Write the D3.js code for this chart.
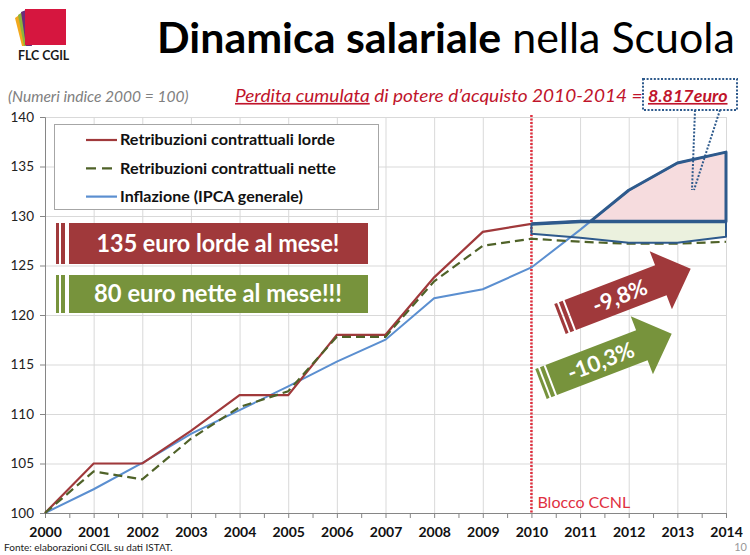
<!DOCTYPE html>
<html>
<head>
<meta charset="utf-8">
<script src="https://cdn.jsdelivr.net/npm/d3@7"></script>
<style>
  body { margin: 0; background: #fff; }
  svg { display: block; font-family: Lato, "Open Sans", sans-serif; }
</style>
</head>
<body>
<div class="main"></div>
<script>
// data (numeri indice 2000 = 100)
const years = [2000, 2001, 2002, 2003, 2004, 2005, 2006, 2007, 2008, 2009, 2010, 2011, 2012, 2013, 2014];
const lorde = [100, 105, 105, 108.3, 111.9, 111.9, 118, 118, 123.8, 128.4, 129.2, 129.45, 129.45, 129.45, 129.45];
const nette = [100, 104.2, 103.4, 107.5, 110.7, 112.3, 117.8, 117.8, 123.4, 127.0, 127.7, 127.4, 127.2, 127.2, 127.4];
const inflazione = [100, 102.4, 105.05, 108.0, 110.4, 112.8, 115.3, 117.5, 121.7, 122.6, 124.8, 128.6, 132.6, 135.35, 136.45];

// blocco contrattuale band 2010-2014
const bandYears = [2010, 2011, 2012, 2013, 2014];
const bandTop = [129.2, 129.45, 129.45, 129.45, 129.45];
const bandBottom = [128.2, 127.8, 127.3, 127.3, 127.9];

const yTicks = [100, 105, 110, 115, 120, 125, 130, 135, 140];
const seriesNames = ["Retribuzioni contrattuali lorde", "Retribuzioni contrattuali nette", "Inflazione (IPCA generale)"];

const width = 750;
const height = 555;

const svg = d3.select('.main').append("svg")
    .attr("width", width)
    .attr("height", height);

const x = d3.scaleLinear().domain([2000, 2014]).range([45, 726]);
const y = d3.scaleLinear().domain([100, 140]).range([513, 117]);

// squeeze a text element horizontally so it fills a given width
function fitWidth(sel, w, anchorX) {
    const node = sel.node();
    const bw = node.getBBox().width;
    const k = w / bw;
    sel.attr("transform", `translate(${anchorX},0) scale(${k},1) translate(${-anchorX},0)`);
}

// ---- logo
const logo = svg.append("g");
logo.append("polygon").attr("points", "15,18 22,13 28,46 22,46").attr("fill", "#F2A81D");
logo.append("polygon").attr("points", "18,15 24,11 30,46 24,46").attr("fill", "#8DB33A");
logo.append("polygon").attr("points", "21,12 26,10 32,46 26,46").attr("fill", "#6B2C7A");
logo.append("rect").attr("x", 25).attr("y", 9).attr("width", 41).attr("height", 36).attr("fill", "#D6163F");
const logoText = logo.append("text")
    .attr("x", 18).attr("y", 60)
    .attr("font-size", 14).attr("font-weight", "bold").attr("fill", "#1a1a1a")
    .text("FLC CGIL");
fitWidth(logoText, 52, 18);

// ---- title
const title = svg.append("text")
    .attr("x", 157).attr("y", 53)
    .attr("font-size", 42).attr("fill", "#000");
title.append("tspan").attr("font-weight", "bold").text("Dinamica salariale");
title.append("tspan").text(" nella Scuola");
fitWidth(title, 578, 157);

// ---- subtitle line
const sub = svg.append("text")
    .attr("x", 8).attr("y", 102)
    .attr("font-size", 14.5).attr("font-style", "italic").attr("fill", "#808080")
    .text("(Numeri indice 2000 = 100)");
fitWidth(sub, 181, 8);

const perdita = svg.append("text")
    .attr("x", 235).attr("y", 102)
    .attr("font-size", 16.5).attr("font-style", "italic").attr("fill", "#C0142B");
perdita.append("tspan").attr("text-decoration", "underline").text("Perdita cumulata");
perdita.append("tspan").text(" di potere d\u2019acquisto 2010-2014 = ");
fitWidth(perdita, 408, 235);

const euro = svg.append("text")
    .attr("x", 648).attr("y", 102)
    .attr("font-size", 16.5).attr("font-style", "italic").attr("font-weight", "bold")
    .attr("text-decoration", "underline").attr("fill", "#C0142B")
    .text("8.817euro");
fitWidth(euro, 80, 648);

// ---- grid
const grid = svg.append("g").attr("stroke", "#D9D9D9").attr("stroke-width", 1);
grid.selectAll(".hgrid").data(yTicks.slice(1)).enter().append("line")
    .attr("x1", x(2000)).attr("x2", x(2014))
    .attr("y1", d => y(d) + 0.5).attr("y2", d => y(d) + 0.5);
grid.selectAll(".vgrid").data(years.slice(1)).enter().append("line")
    .attr("x1", d => x(d) + 0.5).attr("x2", d => x(d) + 0.5)
    .attr("y1", y(140)).attr("y2", y(100));

// ---- axes
const yAxis = svg.append("g")
    .attr("transform", `translate(${x(2000)},0)`)
    .call(d3.axisLeft(y).tickValues(yTicks).tickSize(5).tickPadding(6).tickFormat(d3.format("d")));
yAxis.select(".domain").attr("stroke", "#868686");
yAxis.selectAll(".tick line").attr("stroke", "#868686");
yAxis.selectAll("text").attr("font-size", 13.5).attr("fill", "#222").attr("font-family", "Lato, sans-serif");

const halfYears = d3.range(2000, 2014.01, 0.5);
const xAxis = svg.append("g")
    .attr("transform", `translate(0,${y(100)})`)
    .call(d3.axisBottom(x).tickValues(halfYears).tickSize(5).tickPadding(9)
        .tickFormat(d => Number.isInteger(d) ? d : ""));
xAxis.select(".domain").attr("stroke", "#868686");
xAxis.selectAll(".tick line").attr("stroke", "#868686");
xAxis.selectAll("text").attr("font-size", 14).attr("font-weight", "bold").attr("fill", "#111").attr("font-family", "Lato, sans-serif");

// ---- band regions (fills)
const band = bandYears.map((yr, i) => ({
    yr: yr, top: bandTop[i], bottom: bandBottom[i],
    infl: inflazione[years.indexOf(yr)]
}));

// where inflation crosses the band top
let cross = null;
for (let i = 0; i < band.length - 1; i++) {
    const a = band[i], b = band[i + 1];
    const da = a.infl - a.top, db = b.infl - b.top;
    if (da <= 0 && db > 0) {
        const t = da / (da - db);
        cross = { yr: a.yr + t * (b.yr - a.yr), v: a.top + t * (b.top - a.top), idx: i + 1 };
        break;
    }
}
const pinkTop = [[cross.yr, cross.v]].concat(band.slice(cross.idx).map(d => [d.yr, d.infl]));
const pinkBottom = band.slice(cross.idx).map(d => [d.yr, d.top]).reverse().concat([[cross.yr, cross.v]]);
const pinkPts = pinkTop.concat(pinkBottom);
const greenPts = band.map(d => [d.yr, d.top]).concat(band.map(d => [d.yr, d.bottom]).reverse());

const poly = d3.line().x(d => x(d[0])).y(d => y(d[1]));

svg.append("path").attr("d", poly(pinkPts) + "Z").attr("fill", "#F6DCDE");
svg.append("path").attr("d", poly(greenPts) + "Z").attr("fill", "#EBF1DE");

// ---- Blocco CCNL line
svg.append("line")
    .attr("x1", x(2010)).attr("x2", x(2010))
    .attr("y1", y(140) - 2).attr("y2", y(100))
    .attr("stroke", "#E0303F").attr("stroke-width", 2.5)
    .attr("stroke-dasharray", "2,1.5");
svg.append("text")
    .attr("x", x(2010) + 6).attr("y", 508)
    .attr("font-size", 16).attr("fill", "#E0303F")
    .text("Blocco CCNL");

// ---- data lines
const line = d3.line().x((d, i) => x(years[i])).y(d => y(d));
svg.append("path").datum(inflazione).attr("d", line)
    .attr("fill", "none").attr("stroke", "#5B8FD0").attr("stroke-width", 2);
svg.append("path").datum(lorde).attr("d", line)
    .attr("fill", "none").attr("stroke", "#A0393B").attr("stroke-width", 2.2);
svg.append("path").datum(nette).attr("d", line)
    .attr("fill", "none").attr("stroke", "#4F6228").attr("stroke-width", 2.2)
    .attr("stroke-dasharray", "9,5");

// ---- band outlines
svg.append("path").attr("d", poly(greenPts) + "Z")
    .attr("fill", "none").attr("stroke", "#2E5A8C").attr("stroke-width", 2).attr("stroke-linejoin", "round");
svg.append("path").attr("d", poly(pinkPts) + "Z")
    .attr("fill", "none").attr("stroke", "#2E5A8C").attr("stroke-width", 3).attr("stroke-linejoin", "round");
svg.append("path").attr("d", poly(band.map(d => [d.yr, d.top])))
    .attr("fill", "none").attr("stroke", "#2E5A8C").attr("stroke-width", 3.5);

// ---- callout for 8.817euro
const callout = svg.append("g").attr("fill", "none").attr("stroke", "#2E5A8C")
    .attr("stroke-width", 2).attr("stroke-dasharray", "2,1.6");
callout.append("rect").attr("x", 643).attr("y", 79).attr("width", 94).attr("height", 31);
callout.append("line").attr("x1", 695).attr("y1", 110).attr("x2", 692).attr("y2", 190);
callout.append("line").attr("x1", 720).attr("y1", 110).attr("x2", 694).attr("y2", 190);

// ---- legend
const legend = svg.append("g");
legend.append("rect").attr("x", 54.5).attr("y", 124.5).attr("width", 324).attr("height", 85)
    .attr("fill", "#fff").attr("stroke", "#A6A6A6");
const legStyles = [
    { color: "#A0393B", dash: null, w: 215 },
    { color: "#4F6228", dash: "10,6", w: 216 },
    { color: "#5B8FD0", dash: null, w: 183 }
];
seriesNames.forEach((name, i) => {
    const ly = 140 + i * 28.3;
    legend.append("line").attr("x1", 86).attr("x2", 117).attr("y1", ly).attr("y2", ly)
        .attr("stroke", legStyles[i].color).attr("stroke-width", 2.2)
        .attr("stroke-dasharray", legStyles[i].dash);
    const t = legend.append("text").attr("x", 120).attr("y", ly + 5.5)
        .attr("font-size", 15.5).attr("font-weight", "bold").attr("fill", "#111")
        .text(name);
    fitWidth(t, legStyles[i].w, 120);
});

// ---- striped banners
function banner(y0, h, color, label, tw) {
    const g = svg.append("g");
    g.append("rect").attr("x", 56).attr("y", y0).attr("width", 3).attr("height", h).attr("fill", color);
    g.append("rect").attr("x", 61).attr("y", y0).attr("width", 4).attr("height", h).attr("fill", color);
    g.append("rect").attr("x", 69).attr("y", y0).attr("width", 299).attr("height", h).attr("fill", color);
    const t = g.append("text").attr("x", 218).attr("y", y0 + h / 2 + 8.5)
        .attr("text-anchor", "middle").attr("font-size", 24).attr("font-weight", "bold")
        .attr("fill", "#fff").text(label);
    fitWidth(t, tw, 218);
}
banner(223, 41, "#A0393B", "135 euro lorde al mese!", 243);
banner(275, 38, "#77933C", "80 euro nette al mese!!!", 248);

// ---- striped arrows
function arrow(tailX, tailY, angle, color, label) {
    const g = svg.append("g").attr("transform", `translate(${tailX},${tailY}) rotate(${angle})`);
    const L = 140, sw = 32, hw = 62, hl = 32;
    g.append("rect").attr("x", 0).attr("y", -sw / 2).attr("width", 3).attr("height", sw).attr("fill", color);
    g.append("rect").attr("x", 5).attr("y", -sw / 2).attr("width", 4).attr("height", sw).attr("fill", color);
    g.append("polygon")
        .attr("points", [[11, -sw / 2], [L - hl, -sw / 2], [L - hl, -hw / 2], [L, 0], [L - hl, hw / 2], [L - hl, sw / 2], [11, sw / 2]].join(" "))
        .attr("fill", color);
    g.append("text").attr("x", 64).attr("y", 8)
        .attr("text-anchor", "middle").attr("font-size", 22).attr("fill", "#fff").attr("font-weight", "bold")
        .text(label);
}
arrow(560, 319, -21, "#A0393B", "-9,8%");
arrow(541, 384, -21, "#77933C", "-10,3%");

// ---- footer
svg.append("text").attr("x", 4).attr("y", 551)
    .attr("font-size", 10).attr("fill", "#222")
    .text("Fonte: elaborazioni CGIL su dati  ISTAT.");
svg.append("text").attr("x", 747).attr("y", 551).attr("text-anchor", "end")
    .attr("font-size", 11).attr("fill", "#999")
    .text("10");
</script>
</body>
</html>
